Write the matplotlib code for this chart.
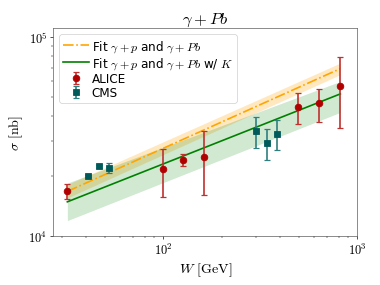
import math
import matplotlib
matplotlib.use('Agg')
import matplotlib.pyplot as plt
from matplotlib.ticker import FuncFormatter

plt.rcParams['mathtext.fontset'] = 'cm'

# ALICE gamma+Pb
alice_W = [32, 99, 126, 162, 497, 637, 817]
alice_sig = [16900, 21760, 24130, 24950, 44200, 46300, 56900]
alice_up = [18400, 27500, 25800, 33600, 52400, 55000, 78900]
alice_lo = [15400, 15700, 22400, 16200, 36400, 37500, 35000]

# CMS gamma+Pb
cms_W = [41, 46.7, 52.7, 301, 343, 387]
cms_sig = [20100, 22400, 22000, 33800, 29400, 32700]
cms_up = [20400, 22800, 23200, 39700, 34300, 38300]
cms_lo = [19800, 22000, 20700, 27600, 24200, 27100]

# fit end points (straight lines in log-log)
fit_W = [32, 817]
fit1 = [16800, 69200]
fit1_up = [18200, 73800]
fit1_lo = [15600, 64600]
fit2 = [14900, 51700]
fit2_up = [18500, 59700]
fit2_lo = [12000, 41800]

fig = plt.figure(figsize=(6.4, 4.8), dpi=59.53)
ax = fig.add_axes([0.14, 0.17, 0.798, 0.728])

ax.fill_between(fit_W, fit1_lo, fit1_up, color='orange', alpha=0.25, lw=0)
ax.plot(fit_W, fit1, color='orange', ls='-.', lw=2, label=r'Fit $\gamma+p$ and $\gamma+Pb$')
ax.fill_between(fit_W, fit2_lo, fit2_up, color='green', alpha=0.18, lw=0)
ax.plot(fit_W, fit2, color='green', ls='-', lw=2, label=r'Fit $\gamma+p$ and $\gamma+Pb$ w/ $K$')

a_err = [[s - l for s, l in zip(alice_sig, alice_lo)], [u - s for s, u in zip(alice_sig, alice_up)]]
c_err = [[s - l for s, l in zip(cms_sig, cms_lo)], [u - s for s, u in zip(cms_sig, cms_up)]]
ax.errorbar(alice_W, alice_sig, yerr=a_err, fmt='o', color='#b00000', ecolor='#c0302f',
            elinewidth=2, capthick=1.5, capsize=4, ms=8, label='ALICE')
ax.errorbar(cms_W, cms_sig, yerr=c_err, fmt='s', color='#005a5a', ecolor='#2f7f7f',
            elinewidth=2, capthick=1.5, capsize=4, ms=8, label='CMS')

ax.set_xscale('log')
ax.set_yscale('log')
ax.set_xlim(27.1, 1000)
ax.set_ylim(1e4, 1.1e5)
fmt = FuncFormatter(lambda v, p: r'$10^{%d}$' % round(math.log10(v)))
ax.xaxis.set_major_formatter(fmt)
ax.yaxis.set_major_formatter(fmt)
ax.tick_params(labelsize=15)
ax.set_xlabel(r'$W\ [\mathrm{GeV}]$', fontsize=17)
ax.set_ylabel(r'$\sigma\ [\mathrm{nb}]$', fontsize=17)
ax.set_title(r'$\gamma + Pb$', fontsize=20)
for s in ax.spines.values():
    s.set_color('#555555')
ax.legend(loc='upper left', fontsize=14.5, labelspacing=0.1, handletextpad=0.2,
          borderpad=0.3, handlelength=2.2)

fig.savefig('out.png', dpi=59.53)
